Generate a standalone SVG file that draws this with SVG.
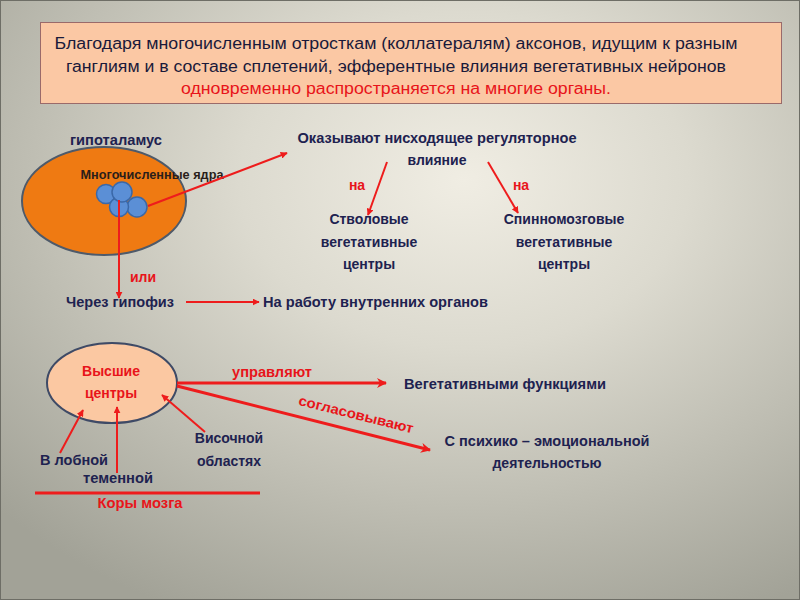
<svg xmlns="http://www.w3.org/2000/svg" width="800" height="600" viewBox="0 0 800 600">
<defs>
<radialGradient id="bg" cx="0.58" cy="0.3" r="0.8">
<stop offset="0" stop-color="#f0ede3"/>
<stop offset="0.35" stop-color="#dcdacf"/>
<stop offset="1" stop-color="#a2a297"/>
</radialGradient>
<marker id="ah" viewBox="0 0 10 10" refX="9" refY="5" markerWidth="7" markerHeight="7" markerUnits="userSpaceOnUse" orient="auto">
<path d="M0,0 L10,5 L0,10 z" fill="#ee1c1c"/>
</marker>
<marker id="ah2" viewBox="0 0 10 10" refX="9" refY="5" markerWidth="10" markerHeight="10" markerUnits="userSpaceOnUse" orient="auto">
<path d="M0,0 L10,5 L0,10 L3,5 z" fill="#ee1c1c"/>
</marker>
</defs>
<style>
text{font-family:"Liberation Sans","DejaVu Sans",sans-serif;}
.t{fill:#1e2250;font-size:14px;font-weight:bold;}
.h{fill:#1a1a3a;font-size:16px;}
.r{fill:#e8141a;}
.c{stroke:#ee1c1c;stroke-width:2;fill:none;}
.cb{stroke:#ee1c1c;stroke-width:3;fill:none;}
.nuc{fill:#5b8fd6;stroke:#3a68a8;stroke-width:1.5;}
</style>
<rect width="800" height="600" fill="url(#bg)"/>
<rect x="0.5" y="0.5" width="799" height="599" fill="none" stroke="#6e6e66" stroke-width="1"/>

<g id="header">
<rect x="40.5" y="22.5" width="741" height="81" fill="#fbc8a4" stroke="#9a6a6a" stroke-width="1"/>
<text class="h" x="396" y="49" text-anchor="middle" textLength="683" lengthAdjust="spacingAndGlyphs">Благодаря многочисленным отросткам (коллатералям) аксонов, идущим к разным</text>
<text class="h" x="396" y="72" text-anchor="middle" textLength="660" lengthAdjust="spacingAndGlyphs">ганглиям и в составе сплетений, эфферентные влияния вегетативных нейронов</text>
<text class="h r" x="396" y="94" text-anchor="middle" textLength="430" lengthAdjust="spacingAndGlyphs">одновременно распространяется на многие органы.</text>
</g>

<g id="hypothalamus">
<ellipse cx="104" cy="201" rx="82" ry="54" fill="#ef7a12" stroke="#4e5a6a" stroke-width="2"/>
<text class="t" x="116" y="145" text-anchor="middle" textLength="92" lengthAdjust="spacingAndGlyphs">гипоталамус</text>
<circle class="nuc" cx="106" cy="194" r="9.5"/>
<circle class="nuc" cx="137" cy="207" r="10"/>
<circle class="nuc" cx="119" cy="207" r="9.5"/>
<circle class="nuc" cx="122" cy="192" r="10"/>
<text x="152" y="179" text-anchor="middle" font-size="12" font-weight="bold" fill="#2a1e1a" textLength="143" lengthAdjust="spacingAndGlyphs">Многочисленные ядра</text>
</g>

<g id="descending">
<text class="t" x="437" y="143" text-anchor="middle" textLength="279" lengthAdjust="spacingAndGlyphs">Оказывают нисходящее регуляторное</text>
<text class="t" x="437" y="165" text-anchor="middle">влияние</text>
</g>
<g id="stem">
<text class="t" x="369" y="224" text-anchor="middle">Стволовые</text>
<text class="t" x="369" y="247" text-anchor="middle">вегетативные</text>
<text class="t" x="369" y="269" text-anchor="middle">центры</text>
</g>
<g id="spinal">
<text class="t" x="564" y="224" text-anchor="middle">Спинномозговые</text>
<text class="t" x="564" y="247" text-anchor="middle">вегетативные</text>
<text class="t" x="564" y="269" text-anchor="middle">центры</text>
</g>
<g id="hypophysis">
<text class="t" x="120" y="307" text-anchor="middle" textLength="108" lengthAdjust="spacingAndGlyphs">Через гипофиз</text>
</g>
<g id="organs">
<text class="t" x="263" y="307" textLength="225" lengthAdjust="spacingAndGlyphs">На работу внутренних органов</text>
</g>

<g id="higher">
<ellipse cx="112" cy="383" rx="65" ry="40" fill="#fbc8a2" stroke="#3e4a66" stroke-width="2"/>
<text class="t r" x="111" y="376" text-anchor="middle">Высшие</text>
<text class="t r" x="111" y="398" text-anchor="middle">центры</text>
</g>
<g id="vegfunc">
<text class="t" x="404" y="389" textLength="202" lengthAdjust="spacingAndGlyphs">Вегетативными функциями</text>
</g>
<g id="psycho">
<text class="t" x="547" y="446" text-anchor="middle" textLength="205" lengthAdjust="spacingAndGlyphs">С психико – эмоциональной</text>
<text class="t" x="547" y="468" text-anchor="middle">деятельностью</text>
</g>
<g id="frontal"><text class="t" x="40" y="465" textLength="68" lengthAdjust="spacingAndGlyphs">В лобной</text></g>
<g id="parietal"><text class="t" x="83" y="483" textLength="70" lengthAdjust="spacingAndGlyphs">теменной</text></g>
<g id="temporal">
<text class="t" x="229" y="443" text-anchor="middle">Височной</text>
<text class="t" x="229" y="466" text-anchor="middle">областях</text>
</g>
<g id="cortex">
<line class="cb" x1="35" y1="493" x2="260" y2="493"/>
<text class="t r" x="140" y="508" text-anchor="middle" font-weight="normal" textLength="85" lengthAdjust="spacingAndGlyphs">Коры мозга</text>
</g>

<g id="connectors">
<line class="c" x1="148" y1="206" x2="287" y2="153" marker-end="url(#ah)"/>
<line class="c" x1="119" y1="200" x2="119" y2="298" marker-end="url(#ah)"/>
<text class="t r" x="143" y="282" text-anchor="middle">или</text>
<line class="c" x1="186" y1="302" x2="259" y2="302" marker-end="url(#ah)"/>
<line class="c" x1="387" y1="162" x2="368" y2="215" marker-end="url(#ah)"/>
<text class="t r" x="357" y="190" text-anchor="middle">на</text>
<line class="c" x1="488" y1="162" x2="518" y2="213" marker-end="url(#ah)"/>
<text class="t r" x="521" y="190" text-anchor="middle">на</text>
<line class="cb" x1="177" y1="383" x2="386" y2="383" marker-end="url(#ah2)"/>
<text class="t r" x="272" y="377" text-anchor="middle" textLength="80" lengthAdjust="spacingAndGlyphs">управляют</text>
<line class="cb" x1="177" y1="386" x2="430" y2="450" marker-end="url(#ah2)"/>
<text class="t r" x="355" y="419" text-anchor="middle" transform="rotate(14 355 419)" textLength="118" lengthAdjust="spacingAndGlyphs">согласовывают</text>
<line class="c" x1="60" y1="453" x2="83" y2="410" marker-end="url(#ah)"/>
<line class="c" x1="117" y1="473" x2="117" y2="407" marker-end="url(#ah)"/>
<line class="c" x1="205" y1="432" x2="162" y2="395" marker-end="url(#ah)"/>
</g>
</svg>
